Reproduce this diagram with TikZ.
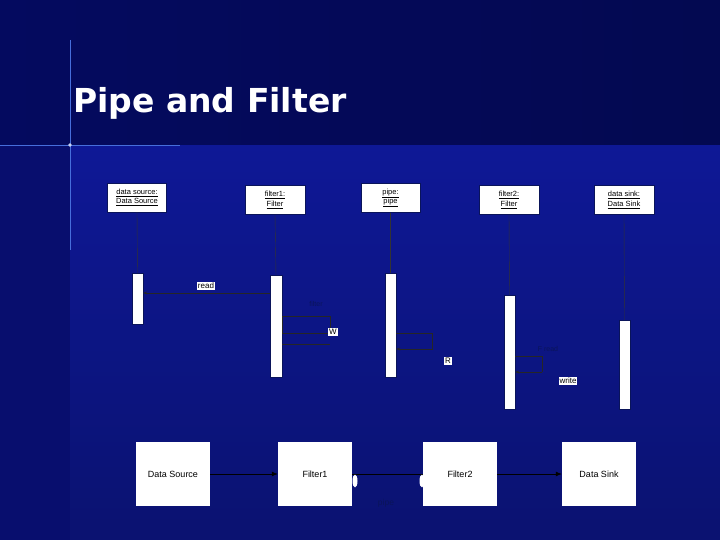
\documentclass[tikz,border=0pt]{standalone}
\usepackage{fontspec}
\setmainfont{Liberation Sans}
\newfontfamily\titlefont{DejaVu Sans}
\usetikzlibrary{arrows.meta,shapes.geometric}
\definecolor{bgtop}{RGB}{4,10,95}
\definecolor{bgmain}{RGB}{14,24,150}
\definecolor{bgleft}{RGB}{8,14,110}
\definecolor{flare}{RGB}{70,110,220}
\definecolor{darktxt}{RGB}{10,20,90}
\tikzset{
 hbox/.style={draw=darktxt,fill=white,minimum width=59pt,minimum height=29pt,inner sep=0pt,align=center,font=\fontsize{7.5}{9.5}\selectfont},
 act/.style={fill=white,draw=darktxt,minimum width=11pt,inner sep=0pt},
 life/.style={draw=black!80,line width=0.4pt},
 msg/.style={draw=black!85,line width=0.6pt},
 lbl/.style={fill=white,inner sep=0.8pt,font=\fontsize{8}{9}\selectfont},
 dlbl/.style={text=darktxt,inner sep=0.5pt,font=\fontsize{7}{8}\selectfont},
 bbox/.style={fill=white,minimum width=74pt,minimum height=64pt,inner sep=0pt,font=\fontsize{9}{11}\selectfont},
 conn/.style={draw=black,line width=0.8pt,-{Latex[length=6pt,width=5pt]}},
 port/.style={ellipse,fill=white,minimum width=5pt,minimum height=13pt,inner sep=0pt}
}
\begin{document}
\begin{tikzpicture}[x=1pt,y=-1pt]
\useasboundingbox (0,0) rectangle (720,540);
\shade[top color=bgmain,bottom color=bgmain!75!black] (70,145) rectangle (720,540);
\fill[bgleft] (0,145) rectangle (70,540);
\shade[left color=bgtop,right color=bgtop!85!black] (0,0) rectangle (720,145);
\draw[flare,line width=0.8pt] (0,145) -- (180,145);
\draw[flare,line width=0.8pt] (70,40) -- (70,250);
\fill[white!70!flare] (70,145) circle (1.8pt);
\node[anchor=west,text=white,inner sep=0pt,font=\titlefont\bfseries\fontsize{33}{38}\selectfont] (title) at (73,103) {Pipe and Filter};

% header boxes
\node[hbox] (h1) at (137,197.5) {\underline{data source:}\\\underline{Data Source}};
\node[hbox,minimum width=60pt] (h2) at (275,200) {\underline{filter1:}\\\underline{Filter}};
\node[hbox] (h3) at (390.5,198) {\underline{pipe:}\\\underline{pipe}};
\node[hbox,minimum width=60pt] (h4) at (509,200) {\underline{filter2:}\\\underline{Filter}};
\node[hbox,minimum width=60pt] (h5) at (624,200) {\underline{data sink:}\\\underline{Data Sink}};

% activations
\node[act,minimum height=51pt] (a1) at (137.5,298.5) {};
\node[act,minimum height=102pt,minimum width=12pt] (a2) at (276,326) {};
\node[act,minimum height=104pt] (a3) at (390.5,325) {};
\node[act,minimum height=114pt] (a4) at (509.5,352) {};
\node[act,minimum height=89pt] (a5) at (624.5,364.5) {};

\foreach \h/\a in {h1/a1,h2/a2,h3/a3,h4/a4,h5/a5} \draw[life] (\h.south) -- (\a.north);

% read
\coordinate (r1) at (270,293);
\draw[msg,-{Stealth[length=4pt]}] (a2.west |- r1) -- (a1.east |- r1);
\node[lbl] (read) at (206,286) {read};
% filter1 self loops
\draw[msg] (282,316) rectangle (330,333);
\draw[msg] (282,344) -- (330,344);
\node[dlbl] (f1l) at (316,304) {filter};
\node[lbl] (w) at (333,332) {W};
% pipe loop
\draw[msg] (432,333) -- (396,333);
\draw[msg,-{Stealth[length=4pt]}] (432,333) -- (432,349) -- (a3.east |- 0,349);
\node[lbl] (r) at (448,361) {R};
% filter2 loop
\draw[msg] (515,356) -- (542,356) -- (542,372);
\draw[msg,-{Stealth[length=4pt]}] (542,372) -- (a4.east |- 0,372);
\node[dlbl] (f2l) at (548,349) {F read};
\node[lbl] (write) at (568,381) {write};

% bottom boxes
\node[bbox] (b1) at (173,474) {Data Source};
\node[bbox] (b2) at (315,474) {Filter1};
\node[bbox] (b3) at (460,474) {Filter2};
\node[bbox] (b4) at (599,474) {Data Sink};
\draw[conn] (b1.east) -- (b2.west);
\draw[line width=0.8pt] (b2.east) -- (b3.west);
\draw[conn] (b3.east) -- (b4.west);
\node[port] (p1) at (355,481) {};
\node[port] (p2) at (422,481) {};
\node[text=darktxt,font=\fontsize{8.5}{9}\selectfont] (pl) at (386,503) {pipe};
\end{tikzpicture}
\end{document}
